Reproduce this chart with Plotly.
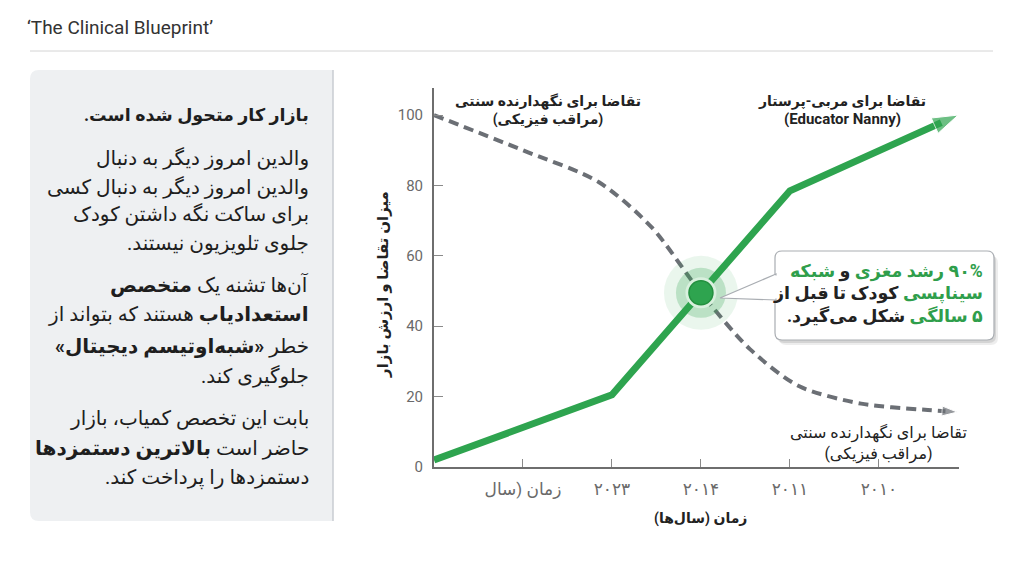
import re
import plotly.graph_objects as go

# ---------------- data ----------------
x_tickvals = [1, 2, 3, 4, 5]
x_ticktext = ["زمان (سال", "۲۰۲۳", "۲۰۱۴", "۲۰۱۱", "۲۰۱۰"]
y_tickvals = [0, 20, 40, 60, 80, 100]

edu_x = [0, 2, 3, 4, 5.89]
edu_y = [2, 20.5, 49.5, 78.5, 100]

trad_x = [0, 1, 1.85, 2.45, 3, 3.55, 4.1, 4.8, 5.55, 5.88]
trad_y = [100, 90, 81, 68, 49.5, 33.5, 23, 18, 16.2, 15.6]

cross_x = [3]
cross_y = [49.5]

GREEN = "#2ea44f"
GREEN_TXT = "#2f9e4b"
GRAY = "#6b6f75"
DARK = "#222222"
FONT = "Roboto, 'DejaVu Sans', sans-serif"

# ---------------- geometry helpers (layout only) ----------------
OFF = 8  # page body margin
W, H = 1024, 572
PL, PR, PT, PB = 434, 959, 88, 467  # plot area in screen pixels
L, R, T, B = PL - OFF, W - (PR - OFF), PT - OFF, H - (PB - OFF)
PW, PH = PR - PL, PB - PT


def X(px):
    return (px - PL) / PW


def Y(py):
    return (PB - py) / PH


RLM = "\u200f"


def fa(s):
    # right-to-left paragraph direction for Persian text (marks kept inside the text runs)
    s = re.sub(r"^((?:<[^>]+>)*)", lambda m: m.group(1) + RLM, s, count=1)
    s = re.sub(r"((?:<[^>]+>)*)$", lambda m: RLM + m.group(1), s, count=1)
    return s


def rrect(x0, y0, x1, y1, r, corners=(1, 1, 1, 1)):
    tl, tr, br, bl = [r if c else 0 for c in corners]
    p = f"M {X(x0+tl)},{Y(y0)} L {X(x1-tr)},{Y(y0)} "
    p += f"Q {X(x1)},{Y(y0)} {X(x1)},{Y(y0+tr)} L {X(x1)},{Y(y1-br)} "
    p += f"Q {X(x1)},{Y(y1)} {X(x1-br)},{Y(y1)} L {X(x0+bl)},{Y(y1)} "
    p += f"Q {X(x0)},{Y(y1)} {X(x0)},{Y(y1-bl)} L {X(x0)},{Y(y0+tl)} "
    p += f"Q {X(x0)},{Y(y0)} {X(x0+tl)},{Y(y0)} Z"
    return p


fig = go.Figure()

# traditional caregiver demand (dashed, with arrow head)
f = 0.6
t_end_x = trad_x[-2] + (trad_x[-1] - trad_x[-2]) * f
t_end_y = trad_y[-2] + (trad_y[-1] - trad_y[-2]) * f
fig.add_trace(go.Scatter(
    x=trad_x[:-1] + [t_end_x], y=trad_y[:-1] + [t_end_y], mode="lines",
    line=dict(color=GRAY, width=4, dash="10px,6px", shape="spline", smoothing=0.8),
    hoverinfo="skip", showlegend=False))
fig.add_trace(go.Scatter(
    x=trad_x[-2:], y=trad_y[-2:], mode="markers",
    marker=dict(symbol="arrow", size=[0, 16], color=GRAY, angleref="previous"),
    hoverinfo="skip", showlegend=False))

# educator nanny demand (thick green, with arrow head)
g = 0.9
e_end_x = edu_x[-2] + (edu_x[-1] - edu_x[-2]) * g
e_end_y = edu_y[-2] + (edu_y[-1] - edu_y[-2]) * g
fig.add_trace(go.Scatter(
    x=edu_x[:-1] + [e_end_x], y=edu_y[:-1] + [e_end_y], mode="lines",
    line=dict(color=GREEN, width=7),
    hoverinfo="skip", showlegend=False))
fig.add_trace(go.Scatter(
    x=edu_x[-2:], y=edu_y[-2:], mode="markers",
    marker=dict(symbol="arrow", size=[0, 27], color=GREEN, angleref="previous"),
    hoverinfo="skip", showlegend=False))

# crossing point glow
for size, color, lc, lw in [
    (74, "rgba(46,164,79,0.10)", "rgba(0,0,0,0)", 0),
    (50, "rgba(46,164,79,0.25)", "rgba(0,0,0,0)", 0),
    (31, "#d9f0de", "rgba(0,0,0,0)", 0),
    (24, GREEN, "#23903f", 1.5),
]:
    fig.add_trace(go.Scatter(
        x=cross_x, y=cross_y, mode="markers",
        marker=dict(size=size, color=color, line=dict(color=lc, width=lw)),
        hoverinfo="skip", showlegend=False))

shapes = []
# header rule
shapes.append(dict(type="line", xref="paper", yref="paper", x0=X(30), x1=X(993),
                   y0=Y(51), y1=Y(51), line=dict(color="#d4d4d4", width=1)))
# left panel
shapes.append(dict(type="path", xref="paper", yref="paper",
                   path=rrect(30, 70, 333, 521, 9, corners=(1, 0, 0, 1)),
                   fillcolor="#eef0f2", line=dict(width=0), layer="below"))
shapes.append(dict(type="line", xref="paper", yref="paper", x0=X(333), x1=X(333),
                   y0=Y(70), y1=Y(521), line=dict(color="#c9cdd2", width=1.5)))

# callout shadow + box + pointer
for dx, dy, a in [(4, 5, 0.07), (2, 3, 0.10)]:
    shapes.append(dict(type="path", xref="paper", yref="paper",
                       path=rrect(775 + dx, 251 + dy, 994 + dx, 340 + dy, 7),
                       fillcolor=f"rgba(0,0,0,{a})", line=dict(width=0), layer="above"))
shapes.append(dict(type="path", xref="paper", yref="paper",
                   path=rrect(775, 251, 994, 340, 7),
                   fillcolor="white", line=dict(color="#a9adb2", width=1.2), layer="above"))
shapes.append(dict(type="path", xref="paper", yref="paper",
                   path=f"M {X(776)},{Y(274)} L {X(720)},{Y(298)} L {X(776)},{Y(300)} Z",
                   fillcolor="white", line=dict(color="#a9adb2", width=1.2), layer="above"))
shapes.append(dict(type="line", xref="paper", yref="paper", x0=X(776), x1=X(776),
                   y0=Y(275.5), y1=Y(298.5), line=dict(color="white", width=3), layer="above"))

annotations = []


def ann(text, px, py, size, color=DARK, xanchor="center", bold=False, angle=0, family=FONT):
    if bold:
        text = f"<b>{text}</b>"
    annotations.append(dict(text=text, xref="paper", yref="paper", x=X(px), y=Y(py),
                            xanchor=xanchor, yanchor="middle", showarrow=False,
                            textangle=angle, align="right" if xanchor == "right" else "center",
                            font=dict(family=family, size=size, color=color)))


# header title
ann("‘The Clinical Blueprint’", 25, 27, 19, color="#333333", xanchor="left")

# left panel text
panel_lines = [
    ("<b>بازار کار متحول شده است.</b>", 115, 17.5),
    ("والدین امروز دیگر به دنبال", 158, 20),
    ("والدین امروز دیگر به دنبال کسی", 187, 20),
    ("برای ساکت نگه داشتن کودک", 214, 20),
    ("جلوی تلویزیون نیستند.", 243, 20),
    ("آن‌ها تشنه یک <b>متخصص</b>", 284, 20),
    ("<b>استعدادیاب</b> هستند که بتواند از", 314, 20),
    ("خطر <b>«شبه‌اوتیسم دیجیتال»</b>", 346, 20),
    ("جلوگیری کند.", 376, 20),
    ("بابت این تخصص کمیاب، بازار", 418, 20),
    ("حاضر است <b>بالاترین دستمزدها</b>", 448, 20),
    ("دستمزدها را پرداخت کند.", 477, 20),
]
for txt, py, sz in panel_lines:
    ann(fa(txt), 311, py, sz, color="#1e1e1e", xanchor="right")

# series labels
ann(fa("تقاضا برای نگهدارنده سنتی") + "<br>" + fa("(مراقب فیزیکی)"), 548, 110, 14, bold=True)
ann(fa("تقاضا برای مربی-پرستار") + "<br><span style='font-size:15px'>(Educator Nanny)</span>",
    842, 110, 14, bold=True)
ann(fa("تقاضا برای نگهدارنده سنتی") + "<br>" + fa("(مراقب فیزیکی)"), 878, 443, 16)

# callout text
callout = [
    [("۹۰% رشد مغزی ", GREEN_TXT), ("و ", DARK), ("شبکه", GREEN_TXT)],
    [("سیناپسی ", GREEN_TXT), ("کودک تا قبل از", DARK)],
    [("۵ سالگی ", GREEN_TXT), ("شکل می‌گیرد.", DARK)],
]
for i, segs in enumerate(callout):
    parts = []
    for j, (t, c) in enumerate(segs):
        if j == 0:
            t = RLM + t
        if j == len(segs) - 1:
            t = t + RLM
        parts.append(f"<span style='color:{c}'>{t}</span>")
    ann("<b>" + "".join(parts) + "</b>", 985, 271 + 22.5 * i, 17.5, xanchor="right")

# axis titles
ann(fa("میزان تقاضا و ارزش بازار"), 383, 285, 15, bold=True, angle=-90)
ann(fa("زمان (سال‌ها)"), 700, 518, 14, bold=True)

fig.update_layout(
    width=W, height=H, autosize=False,
    margin=dict(l=L, r=R, t=T, b=B),
    paper_bgcolor="white", plot_bgcolor="white",
    font=dict(family=FONT, color=DARK),
    shapes=shapes, annotations=annotations,
    xaxis=dict(range=[0, 5.9], tickvals=x_tickvals, ticktext=[fa(t) for t in x_ticktext],
               showgrid=False, zeroline=False, showline=True, linecolor="#6e6e6e",
               linewidth=2, ticks="inside", ticklen=8, tickcolor="#8a8a8a", tickwidth=1,
               tickfont=dict(size=17, color="#6a6a6a", family=FONT), ticklabelstandoff=6,
               fixedrange=True),
    yaxis=dict(range=[0, 107.7], tickvals=y_tickvals,
               showgrid=False, zeroline=False, showline=True, linecolor="#6e6e6e",
               linewidth=2, ticks="inside", ticklen=9, tickcolor="#8a8a8a", tickwidth=1,
               tickfont=dict(size=15, color="#6a6a6a", family=FONT), ticklabelstandoff=6,
               fixedrange=True),
)

fig.write_html("out.html")
